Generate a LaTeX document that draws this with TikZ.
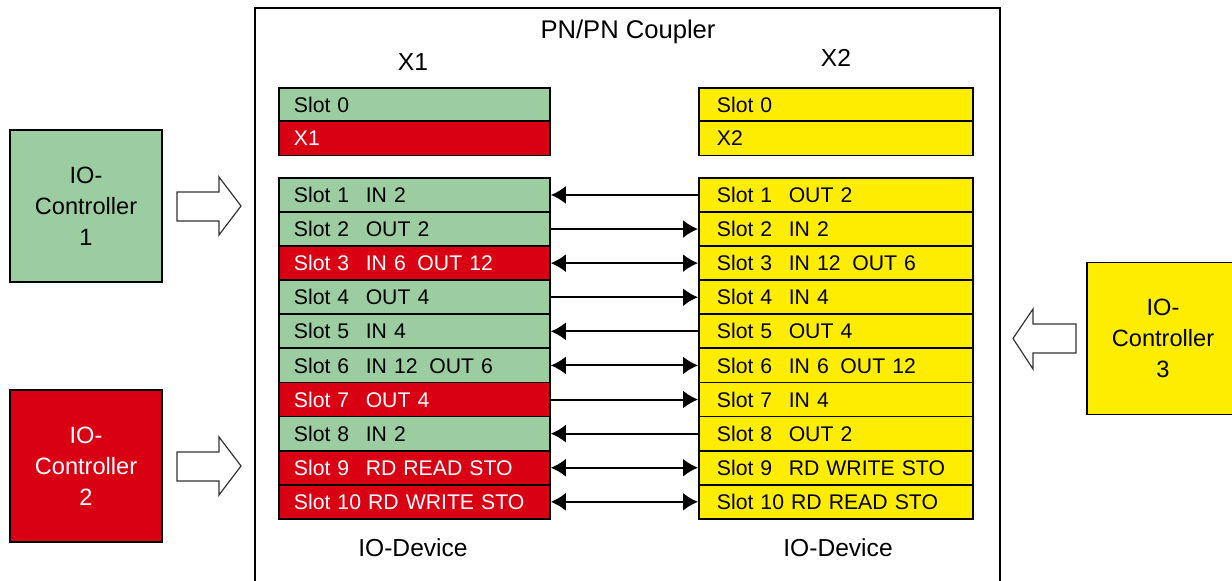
\documentclass[tikz,border=0pt]{standalone}
\usepackage{fontspec}
\setmainfont{Liberation Sans}
\usetikzlibrary{arrows.meta,positioning}

\definecolor{slotgreen}{RGB}{155,205,160}
\definecolor{slotred}{RGB}{218,0,20}
\definecolor{slotyellow}{RGB}{255,237,0}

% "Slot n" padded to the width of "Slot 10 "
\newcommand{\slotno}[1]{\makebox[3.39em][l]{Slot #1}}

\tikzset{
  lslot/.style={draw, line width=0.9pt, anchor=north west, inner ysep=0pt,
    inner xsep=7.5pt, text width=120.5pt, minimum height=17.05pt, align=left,
    font=\fontsize{10.6}{12}\selectfont},
  rslot/.style={lslot, inner xsep=9pt, text width=119pt},
  green/.style={fill=slotgreen},
  red/.style={fill=slotred, text=white},
  yellow/.style={fill=slotyellow},
  ctrl/.style={draw, line width=0.9pt, minimum size=76pt, align=center,
    font=\fontsize{11.8}{15.5}\selectfont},
  label/.style={font=\fontsize{12.3}{14}\selectfont},
  link/.style={line width=1pt, {Latex[length=7.5pt,width=9pt]}-{Latex[length=7.5pt,width=9pt]}},
  blockarrow/.style={line width=0.6pt, draw=black!80, line join=miter}
}

\begin{document}
\begin{tikzpicture}[x=0.5pt, y=-0.5pt]
      \useasboundingbox (0,0) rectangle (1232,581);

      % coupler frame, open at the bottom
      \draw[line width=1pt] (255,600) -- (255,8) -- (1000,8) -- (1000,600);

      \node[label] (title) at (628,32) {\fontsize{12.8}{14}\selectfont PN/PN Coupler};
      \node[label] (xone) at (413,62) {X1};
      \node[label] (xtwo) at (836,58) {X2};

      % X1 side
      \node[lslot, green] (l0) at (278,87)  {Slot 0};
      \node[lslot, red]   (lx) at (278,120.5) {X1};

      \node[lslot, green] (l1)  at (278,177.0) {\slotno{1}IN 2};
      \node[lslot, green] (l2)  at (278,211.1) {\slotno{2}OUT 2};
      \node[lslot, red]   (l3)  at (278,245.2) {\slotno{3}IN 6\hspace{0.55em}OUT 12};
      \node[lslot, green] (l4)  at (278,279.3) {\slotno{4}OUT 4};
      \node[lslot, green] (l5)  at (278,313.4) {\slotno{5}IN 4};
      \node[lslot, green] (l6)  at (278,347.5) {\slotno{6}IN 12\hspace{0.55em}OUT 6};
      \node[lslot, red]   (l7)  at (278,381.6) {\slotno{7}OUT 4};
      \node[lslot, green] (l8)  at (278,415.7) {\slotno{8}IN 2};
      \node[lslot, red]   (l9)  at (278,449.8) {\slotno{9}RD READ STO};
      \node[lslot, red]   (l10) at (278,483.9) {Slot 10 RD WRITE STO};

      % X2 side
      \node[rslot, yellow] (r0) at (698,87)  {Slot 0};
      \node[rslot, yellow] (rx) at (698,120.5) {X2};

      \node[rslot, yellow] (r1)  at (698,177.0) {\slotno{1}OUT 2};
      \node[rslot, yellow] (r2)  at (698,211.1) {\slotno{2}IN 2};
      \node[rslot, yellow] (r3)  at (698,245.2) {\slotno{3}IN 12\hspace{0.55em}OUT 6};
      \node[rslot, yellow] (r4)  at (698,279.3) {\slotno{4}IN 4};
      \node[rslot, yellow] (r5)  at (698,313.4) {\slotno{5}OUT 4};
      \node[rslot, yellow] (r6)  at (698,347.5) {\slotno{6}IN 6\hspace{0.55em}OUT 12};
      \node[rslot, yellow] (r7)  at (698,381.6) {\slotno{7}IN 4};
      \node[rslot, yellow] (r8)  at (698,415.7) {\slotno{8}OUT 2};
      \node[rslot, yellow] (r9)  at (698,449.8) {\slotno{9}RD WRITE STO};
      \node[rslot, yellow] (r10) at (698,483.9) {Slot 10 RD READ STO};

      % data direction between the two sides
      \draw[link, -{Latex[length=7.5pt,width=9pt]}] (r1.west) -- (l1.east);
      \draw[link, -{Latex[length=7.5pt,width=9pt]}] (l2.east) -- (r2.west);
      \draw[link] (l3.east) -- (r3.west);
      \draw[link, -{Latex[length=7.5pt,width=9pt]}] (l4.east) -- (r4.west);
      \draw[link, -{Latex[length=7.5pt,width=9pt]}] (r5.west) -- (l5.east);
      \draw[link] (l6.east) -- (r6.west);
      \draw[link, -{Latex[length=7.5pt,width=9pt]}] (l7.east) -- (r7.west);
      \draw[link, -{Latex[length=7.5pt,width=9pt]}] (r8.west) -- (l8.east);
      \draw[link] (l9.east) -- (r9.west);
      \draw[link] (l10.east) -- (r10.west);

      \node[label] (devl) at (413,548) {IO-Device};
      \node[label] (devr) at (838,548) {IO-Device};

      % controllers
      \node[ctrl, fill=slotgreen] (c1) at (86,206) {IO-\\Controller\\1};
      \node[ctrl, fill=slotred, text=white] (c2) at (86,466) {IO-\\Controller\\2};
      \node[ctrl, fill=slotyellow] (c3) at (1163,338.5) {IO-\\Controller\\3};

      \draw[blockarrow] (177,192) -- (219,192) -- (219,177) -- (241,206) -- (219,235) -- (219,221) -- (177,221) -- cycle;
      \draw[blockarrow] (177,452) -- (219,452) -- (219,437) -- (241,466) -- (219,495) -- (219,481) -- (177,481) -- cycle;
      \draw[blockarrow] (1076,324) -- (1033,324) -- (1033,309) -- (1013,338.5) -- (1033,369) -- (1033,353) -- (1076,353) -- cycle;
\end{tikzpicture}
\end{document}
